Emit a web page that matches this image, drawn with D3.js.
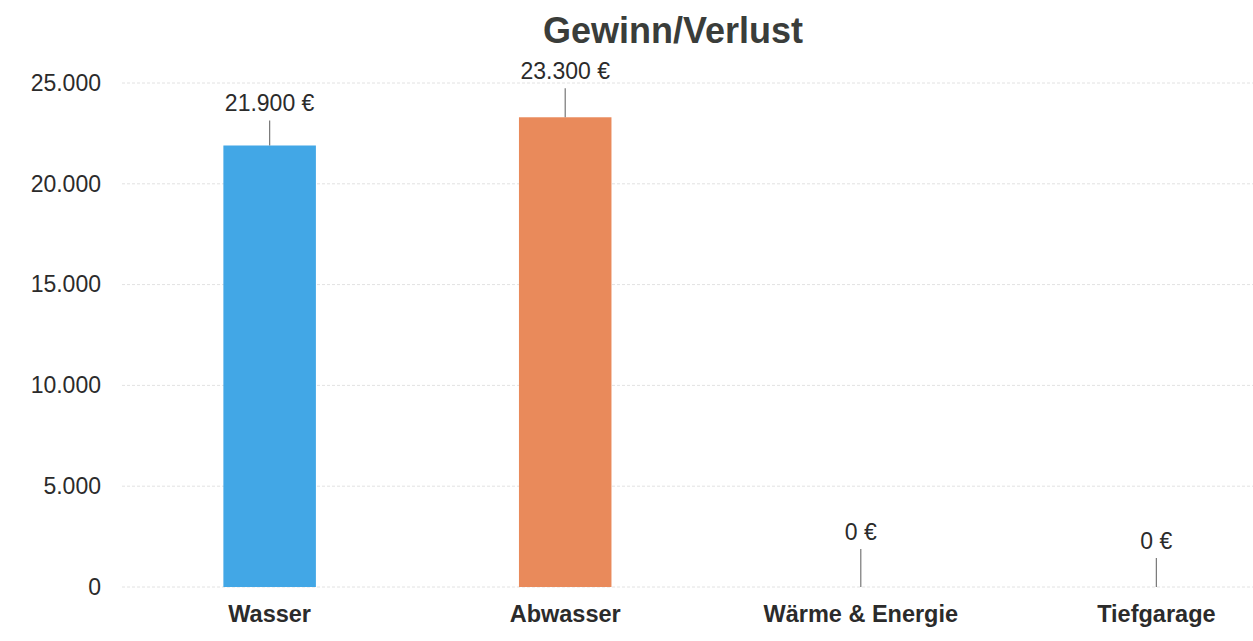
<!DOCTYPE html>
<html>
<head>
<meta charset="utf-8">
<script src="https://cdn.jsdelivr.net/npm/d3@7"></script>
<style>
  html, body { margin: 0; padding: 0; background: #fff; }
  svg { display: block; font-family: "Liberation Sans", Arial, sans-serif; }
</style>
</head>
<body>
<div id="wrapper"></div>
<script>
const categories = ["Wasser", "Abwasser", "Wärme & Energie", "Tiefgarage"];
const values = [21900, 23300, 0, 0];
const barColors = ["#42a7e6", "#e98a5b", "#999999", "#999999"];
const yTicks = [0, 5000, 10000, 15000, 20000, 25000];
const leaderLen = [25, 29, 38, 29];

const width = 1253, height = 641;
const svg = d3.select("#wrapper").append("svg")
  .attr("width", width).attr("height", height);

const x = d3.scaleBand().domain(categories).range([122, 1304]).paddingInner(0.687).paddingOuter(0.343);
const y = d3.scaleLinear().domain([0, 25000]).range([587, 83]);

const de = d3.formatLocale({decimal: ",", thousands: ".", grouping: [3], currency: ["", " €"]});
const fmt = de.format(",d");

// gridlines
svg.append("g").selectAll("line").data(yTicks).enter().append("line")
  .attr("x1", 122).attr("x2", width)
  .attr("y1", d => y(d)).attr("y2", d => y(d))
  .attr("stroke", "#e2e2e2").attr("stroke-width", 1).attr("stroke-dasharray", "3,2");

// y axis labels
const yAxis = d3.axisLeft(y).tickValues(yTicks).tickFormat(fmt).tickSize(0).tickPadding(0);
svg.append("g").attr("transform", "translate(101,0)").call(yAxis)
  .call(g => g.select(".domain").remove())
  .selectAll("text").attr("font-size", "23px").attr("fill", "#2b2b2b")
  .attr("font-family", "Liberation Sans, Arial, sans-serif");

// bars
svg.append("g").selectAll("rect").data(values).enter().append("rect")
  .attr("x", (d, i) => x(categories[i]))
  .attr("width", x.bandwidth())
  .attr("y", d => y(d))
  .attr("height", d => y(0) - y(d))
  .attr("fill", (d, i) => barColors[i]);

// leader lines and value labels
const lbl = svg.append("g");
values.forEach((v, i) => {
  const cx = x(categories[i]) + x.bandwidth() / 2;
  const top = y(v);
  lbl.append("line").attr("x1", cx).attr("x2", cx)
    .attr("y1", top).attr("y2", top - leaderLen[i])
    .attr("stroke", "#777").attr("stroke-width", 1.2);
  lbl.append("text").attr("x", cx).attr("y", top - leaderLen[i] - 9)
    .attr("text-anchor", "middle").attr("font-size", "23px").attr("fill", "#2b2b2b")
    .text(fmt(v) + " €");
});

// x axis labels
const xAxis = d3.axisBottom(x).tickSize(0).tickPadding(0);
svg.append("g").attr("transform", "translate(0,605)").call(xAxis)
  .call(g => g.select(".domain").remove())
  .selectAll("text").attr("font-size", "23.5px").attr("font-weight", "bold").attr("fill", "#2b2b2b")
  .attr("font-family", "Liberation Sans, Arial, sans-serif");

// title
svg.append("text").attr("x", 673).attr("y", 43).attr("text-anchor", "middle")
  .attr("font-size", "36px").attr("font-weight", "bold").attr("fill", "#3a3d3a")
  .text("Gewinn/Verlust");
</script>
</body>
</html>
